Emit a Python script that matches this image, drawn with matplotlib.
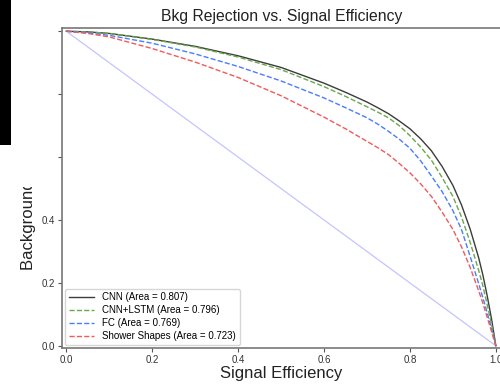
import matplotlib
matplotlib.use("Agg")
from matplotlib import pyplot as plt
from matplotlib.patches import Rectangle
import numpy as np

plt.rcParams['font.family'] = ['Liberation Sans', 'DejaVu Sans']

# signal efficiency / background rejection points for each classifier
cnn_eff = [0.0, 0.05, 0.1, 0.2, 0.3, 0.4, 0.5, 0.6, 0.65, 0.7, 0.725, 0.75, 0.775, 0.8,
           0.825, 0.85, 0.875, 0.9, 0.92, 0.94, 0.96, 0.97, 0.98, 0.99, 1.0]
cnn_rej = [1.0, 0.998, 0.993, 0.975, 0.952, 0.922, 0.885, 0.835, 0.806, 0.775, 0.757, 0.738,
           0.715, 0.69, 0.658, 0.62, 0.57, 0.51, 0.448, 0.372, 0.28, 0.224, 0.158, 0.085, 0.0]

lstm_eff = [0.0, 0.05, 0.1, 0.2, 0.3, 0.4, 0.5, 0.6, 0.65, 0.7, 0.725, 0.75, 0.775, 0.8,
            0.825, 0.85, 0.875, 0.9, 0.92, 0.94, 0.96, 0.97, 0.98, 0.99, 1.0]
lstm_rej = [1.0, 0.998, 0.993, 0.974, 0.95, 0.918, 0.878, 0.824, 0.793, 0.76, 0.743, 0.725,
            0.70, 0.668, 0.632, 0.59, 0.535, 0.475, 0.41, 0.33, 0.24, 0.19, 0.13, 0.068, 0.0]

fc_eff = [0.0, 0.05, 0.1, 0.2, 0.3, 0.4, 0.5, 0.6, 0.65, 0.7, 0.725, 0.75, 0.775, 0.8,
          0.825, 0.85, 0.875, 0.9, 0.92, 0.94, 0.96, 0.97, 0.98, 0.99, 1.0]
fc_rej = [1.0, 0.995, 0.987, 0.962, 0.928, 0.888, 0.842, 0.788, 0.757, 0.725, 0.705, 0.682,
          0.657, 0.628, 0.588, 0.54, 0.49, 0.43, 0.37, 0.285, 0.198, 0.152, 0.105, 0.054, 0.0]

shower_eff = [0.0, 0.05, 0.1, 0.2, 0.3, 0.4, 0.5, 0.6, 0.65, 0.7, 0.725, 0.75, 0.775, 0.8,
              0.825, 0.85, 0.875, 0.9, 0.92, 0.94, 0.96, 0.97, 0.98, 0.99, 1.0]
shower_rej = [1.0, 0.993, 0.982, 0.945, 0.902, 0.853, 0.795, 0.727, 0.69, 0.65, 0.63, 0.608,
              0.58, 0.55, 0.515, 0.475, 0.425, 0.37, 0.315, 0.25, 0.175, 0.135, 0.09, 0.045, 0.0]

labels = ['CNN', 'CNN+LSTM', 'FC', 'Shower Shapes']
areas = [0.807, 0.796, 0.769, 0.723]

fig = plt.figure(figsize=(5, 3.85), dpi=100)
ax = fig.add_axes([0.124, 0.096, 0.878, 0.831])

# random-guess reference line
ax.plot([0, 1], [1, 0], color='#c4c4ff', linewidth=0.9)

ax.plot(cnn_eff, cnn_rej, color='#3c3c3c', linewidth=1.0,
        label='%s (Area = %.3f)' % (labels[0], areas[0]))
ax.plot(lstm_eff, lstm_rej, color='#6aa84a', linestyle='--', linewidth=1.0,
        label='%s (Area = %.3f)' % (labels[1], areas[1]))
ax.plot(fc_eff, fc_rej, color='#4a7cff', linestyle='--', linewidth=1.0,
        label='%s (Area = %.3f)' % (labels[2], areas[2]))
ax.plot(shower_eff, shower_rej, color='#f05a5a', linestyle='--', linewidth=1.0,
        label='%s (Area = %.3f)' % (labels[3], areas[3]))

ax.set_xlim(-0.01, 1.012)
ax.set_ylim(-0.007, 1.01)
ax.set_xticks(np.arange(0, 1.01, 0.2))
ax.set_yticks(np.arange(0, 1.01, 0.2))
ax.tick_params(labelsize=7, length=3, width=0.8, pad=2, color='#555555', labelcolor='#333333')
for s in ax.spines.values():
    s.set_color('#777777')
    s.set_linewidth(1.2)

ax.set_title('Bkg Rejection vs. Signal Efficiency', fontsize=11.3, color='#222222', pad=5)
ax.set_xlabel('Signal Efficiency', fontsize=12, color='#222222', labelpad=0.5)
ax.set_ylabel('Background Rejection', fontsize=12, color='#222222', labelpad=4)

leg = ax.legend(loc='lower left', fontsize=7, labelspacing=0.3, handlelength=2.6,
                borderaxespad=0.3, frameon=True)
leg.get_frame().set_edgecolor('#cccccc')

# blank panel on the upper left with a dark strip along the edge
fig.patches.append(Rectangle((11 / 500, 1 - 187 / 385), 47 / 500, 187 / 385,
                             transform=fig.transFigure, facecolor='white',
                             edgecolor='none', zorder=10))
fig.patches.append(Rectangle((0, 1 - 145 / 385), 11 / 500, 145 / 385,
                             transform=fig.transFigure, facecolor='black',
                             edgecolor='none', zorder=11))

plt.savefig('out.png', dpi=100)
